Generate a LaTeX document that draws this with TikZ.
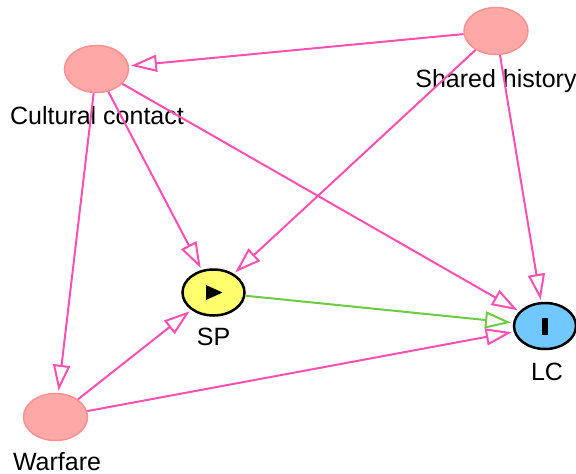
\documentclass[tikz,border=0pt]{standalone}
\usepackage{fontspec}
\setmainfont{Liberation Sans}
\usetikzlibrary{shapes.geometric,arrows.meta,calc}
\definecolor{edgepink}{HTML}{FF4FB2}
\definecolor{edgegreen}{HTML}{6CCB3E}
\definecolor{ancfill}{HTML}{FFA8A8}
\definecolor{ancdraw}{HTML}{FF9090}
\definecolor{expfill}{HTML}{FFFF6E}
\definecolor{outfill}{HTML}{70C8FF}
\begin{document}
\begin{tikzpicture}[x=1pt,y=-1pt,
  ancnode/.style={ellipse,fill=ancfill,draw=ancdraw,line width=1.5pt,
    minimum width=64pt,minimum height=47pt,inner sep=0pt},
  keynode/.style={ellipse,draw=black,line width=2.5pt,
    minimum width=62pt,minimum height=46pt,inner sep=0pt},
  lbl/.style={anchor=base,inner sep=0pt,font=\fontsize{25}{29}\selectfont},
  biasedge/.style={draw=edgepink,line width=2pt,shorten >=2pt,
    -{Triangle[open,length=26pt,width=17pt]}},
  causaledge/.style={draw=edgegreen,line width=2pt,shorten >=2pt,
    -{Triangle[open,length=26pt,width=17pt]}}]
\useasboundingbox (0,0) rectangle (576,474);

% variables
\node[ancnode] (cc) at (96.5,69) {};
\node[ancnode] (sh) at (496,31) {};
\node[ancnode] (wf) at (55.5,417) {};
\node[keynode,fill=expfill] (sp) at (213.5,292.5) {};
\node[keynode,fill=outfill] (lc) at (545,326) {};

% exposure and outcome marks
\fill[black] ($(sp.center)+(-7.5,-7.5)$) -- ($(sp.center)+(9,0)$) -- ($(sp.center)+(-7.5,7.5)$) -- cycle;
\fill[black] ($(lc.center)+(-3,-8.5)$) rectangle ($(lc.center)+(3,8.5)$);

% labels
\node[lbl] (cclbl) at (97,124) {Cultural contact};
\node[lbl] (shlbl) at (496,87) {Shared history};
\node[lbl] (wflbl) at (57,470) {Warfare};
\node[lbl] (splbl) at (213.5,345) {SP};
\node[lbl] (lclbl) at (547,380) {LC};

% arrows
\draw[biasedge] (sh) -- (cc);
\draw[biasedge] (sh) -- (sp);
\draw[biasedge] (sh) -- (lc);
\draw[biasedge] (cc) -- (sp);
\draw[biasedge] (cc) -- (lc);
\draw[biasedge] (cc) -- (wf);
\draw[biasedge] (wf) -- (sp);
\draw[biasedge] (wf) -- (lc);
\draw[causaledge] (sp) -- (lc);
\end{tikzpicture}
\end{document}
